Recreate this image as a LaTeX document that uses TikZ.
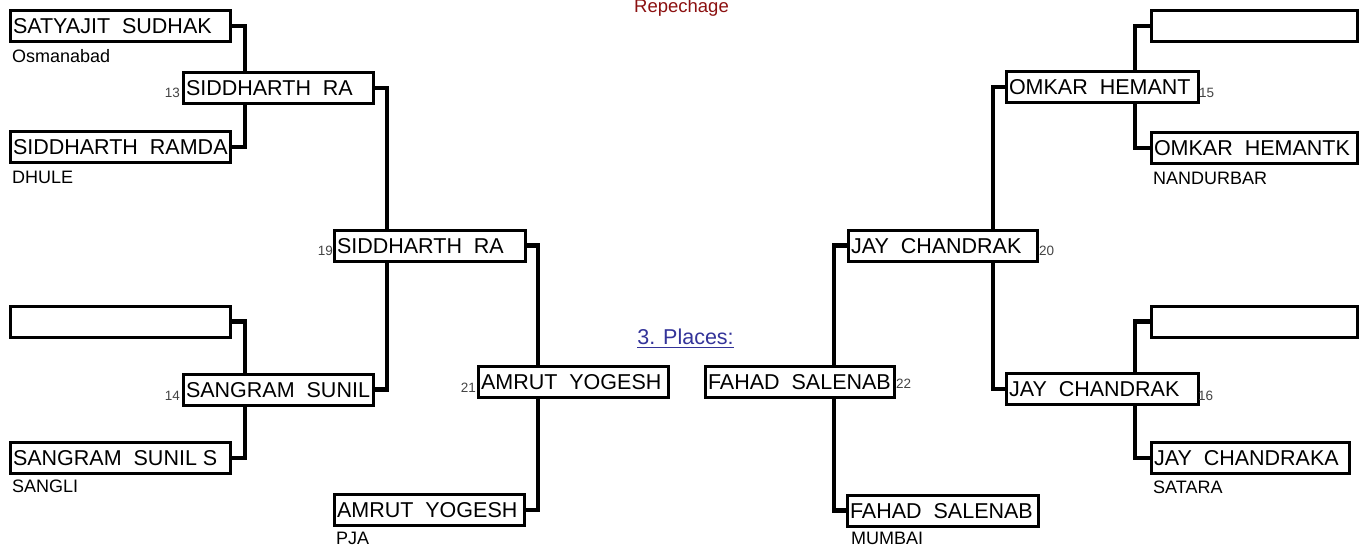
\documentclass[tikz,border=0pt]{standalone}
\usepackage{fontspec}
\setmainfont{Liberation Sans}
\definecolor{numgrey}{HTML}{444444}
\definecolor{titlered}{HTML}{8B1010}
\definecolor{placeblue}{HTML}{333399}
\newcommand{\boxfont}{\fontsize{21.5}{25}\selectfont}
\newcommand{\cityfont}{\fontsize{18}{21}\selectfont}
\newcommand{\numfont}{\fontsize{13.5}{16}\selectfont}
\newcommand{\nm}[2]{\makebox[#1][l]{#2}}
\newcommand{\gp}{\ \ }
\pgfdeclarelayer{bg}
\pgfsetlayers{bg,main}
\tikzset{
  pbox/.style={draw, line width=3pt, fill=white, inner xsep=2.5pt, inner ysep=0pt,
    text height=15.4pt, text depth=0pt, minimum height=31pt, font=\boxfont, anchor=center},
  conn/.style={line width=4.8pt},
  city/.style={anchor=base west, font=\cityfont, inner sep=0pt},
  numl/.style={font=\numfont, text=numgrey, inner sep=0pt},
}
\begin{document}
\begin{tikzpicture}[x=1pt,y=-1pt]
\useasboundingbox (0,0) rectangle (1363,547);
% junction columns
\coordinate (jl1) at (245,0);
\coordinate (jl2) at (387,0);
\coordinate (jl3) at (538,0);
\coordinate (jr3) at (834,0);
\coordinate (jr2) at (993,0);
\coordinate (jr1) at (1135,0);
% boxes
\node[pbox, minimum width=220pt] (a1) at (120,26) {\nm{214pt}{SATYAJIT\gp SUDHAK}};
\node[pbox, minimum width=220pt] (a2) at (120,147) {\nm{214pt}{SIDDHARTH\gp RAMDA}};
\node[pbox, minimum width=220pt] (a3) at (120,321.5) {\nm{214pt}{}};
\node[pbox, minimum width=220pt] (a4) at (120,458) {\nm{214pt}{SANGRAM\gp SUNIL S}};
\node[pbox, minimum width=206pt] (a5) at (1254,26) {\nm{200pt}{}};
\node[pbox, minimum width=206pt] (a6) at (1254,148) {\nm{200pt}{OMKAR\gp HEMANTK}};
\node[pbox, minimum width=206pt] (a7) at (1254,321.5) {\nm{200pt}{}};
\node[pbox, minimum width=198pt] (a8) at (1250,458) {\nm{192pt}{JAY\gp CHANDRAKA}};
\node[pbox, minimum width=190pt] (b1) at (278,88) {\nm{184pt}{SIDDHARTH\gp RA}};
\node[pbox, minimum width=190pt] (b2) at (278,389.5) {\nm{184pt}{SANGRAM\gp SUNIL}};
\node[pbox, minimum width=192pt] (b3) at (1102,87) {\nm{186pt}{OMKAR\gp HEMANT}};
\node[pbox, minimum width=192pt] (b4) at (1102,389) {\nm{186pt}{JAY\gp CHANDRAK}};
\node[pbox, minimum width=191pt] (c1) at (429.5,245.5) {\nm{185pt}{SIDDHARTH\gp RA}};
\node[pbox, minimum width=189pt] (c2) at (942.5,245.5) {\nm{183pt}{JAY\gp CHANDRAK}};
\node[pbox, minimum width=190pt] (d1) at (573,382) {\nm{184pt}{AMRUT\gp YOGESH}};
\node[pbox, minimum width=189pt] (f1) at (799.5,381.5) {\nm{183pt}{FAHAD\gp SALENAB}};
\node[pbox, minimum width=190pt] (e1) at (429,510) {\nm{184pt}{AMRUT\gp YOGESH}};
\node[pbox, minimum width=191pt] (f2) at (942.5,510.5) {\nm{185pt}{FAHAD\gp SALENAB}};
% connectors
\begin{pgfonlayer}{bg}
\draw[conn] (a1.east) -| (jl1 |- b1.north);
\draw[conn] (a2.east) -| (jl1 |- b1.south);
\draw[conn] (a3.east) -| (jl1 |- b2.north);
\draw[conn] (a4.east) -| (jl1 |- b2.south);
\draw[conn] (b1.east) -| (jl2 |- c1.north);
\draw[conn] (b2.east) -| (jl2 |- c1.south);
\draw[conn] (c1.east) -| (jl3 |- d1.north);
\draw[conn] (e1.east) -| (jl3 |- d1.south);
\draw[conn] (a5.west) -| (jr1 |- b3.north);
\draw[conn] (a6.west) -| (jr1 |- b3.south);
\draw[conn] (a7.west) -| (jr1 |- b4.north);
\draw[conn] (a8.west) -| (jr1 |- b4.south);
\draw[conn] (b3.west) -| (jr2 |- c2.north);
\draw[conn] (b4.west) -| (jr2 |- c2.south);
\draw[conn] (c2.west) -| (jr3 |- f1.north);
\draw[conn] (f2.west) -| (jr3 |- f1.south);
\end{pgfonlayer}
% cities
\node[city] (t1) at (12,62) {Osmanabad};
\node[city] (t2) at (12,183) {DHULE};
\node[city] (t3) at (12,492) {SANGLI};
\node[city] (t4) at (336,544.5) {PJA};
\node[city] (t5) at (1153,184) {NANDURBAR};
\node[city] (t6) at (1153,493) {SATARA};
\node[city] (t7) at (851,544.5) {MUMBAI};
% numbers
\node[numl, anchor=base east] (n13) at (180,97) {13};
\node[numl, anchor=base east] (n14) at (180,400) {14};
\node[numl, anchor=base east] (n19) at (333,255) {19};
\node[numl, anchor=base east] (n21) at (476,392) {21};
\node[numl, anchor=base west] (n15) at (1199,97) {15};
\node[numl, anchor=base west] (n16) at (1198,400) {16};
\node[numl, anchor=base west] (n20) at (1039,255) {20};
\node[numl, anchor=base west] (n22) at (896,388) {22};
% titles
\node[anchor=base, font=\fontsize{18.5}{22}\selectfont, text=titlered, inner sep=0pt] (rep) at (681.5,12) {Repechage};
\node[anchor=base, font=\boxfont, text=placeblue, inner sep=0pt] (pl) at (685.5,344) {3. Places:};
\draw[placeblue, line width=1.6pt] ([yshift=-3.5pt]pl.base west) -- ([yshift=-3.5pt]pl.base east);
\end{tikzpicture}
\end{document}
